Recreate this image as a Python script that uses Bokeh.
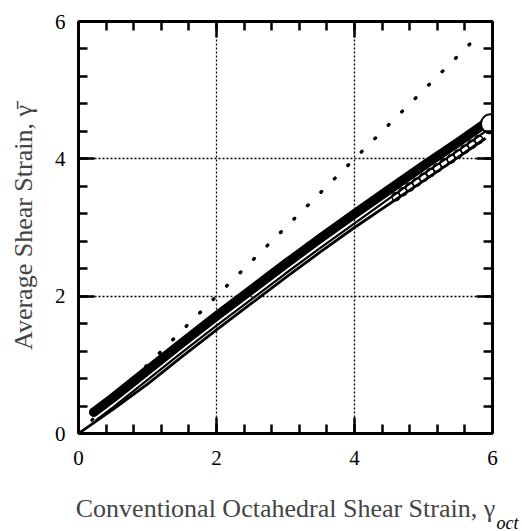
from bokeh.plotting import figure
from bokeh.models import LinearAxis, SingleIntervalTicker, Range1d, Title
from bokeh.embed import file_html
from bokeh.resources import INLINE

# ---- data ----
x_upper = [0.22, 0.5, 1.0, 1.5, 2.0, 2.5, 3.0, 3.5, 4.0, 4.5, 5.0, 5.5, 5.9]
y_upper = [0.31, 0.52, 0.92, 1.32, 1.71, 2.09, 2.47, 2.84, 3.20, 3.55, 3.90, 4.24, 4.52]

x_mid = [0.25, 0.5, 1.0, 1.5, 2.0, 2.5, 3.0, 3.5, 4.0, 4.5, 5.0, 5.5, 5.9]
y_mid = [0.19, 0.38, 0.78, 1.18, 1.57, 1.95, 2.33, 2.70, 3.06, 3.42, 3.78, 4.12, 4.40]

x_lower = [0.0, 0.5, 1.0, 1.5, 2.0, 2.5, 3.0, 3.5, 4.0, 4.5, 5.0, 5.5, 5.9]
y_lower = [0.0, 0.35, 0.72, 1.12, 1.51, 1.89, 2.27, 2.64, 3.00, 3.34, 3.68, 4.02, 4.30]

x_open = [4.6, 4.7, 4.8, 4.9, 5.0, 5.1, 5.2, 5.3, 5.4, 5.5, 5.6, 5.7, 5.8]
y_open = [3.45, 3.52, 3.59, 3.66, 3.73, 3.80, 3.87, 3.94, 4.00, 4.07, 4.14, 4.21, 4.28]

x_last = [5.97]
y_last = [4.51]

x_equal = [0.0, 5.85]
y_equal = [0.0, 5.85]

x_ticks = [0, 2, 4, 6]

FONT = "Liberation Serif"

p = figure(width=522, height=531, output_backend="svg", toolbar_location=None,
           x_range=Range1d(0, 6), y_range=Range1d(0, 6),
           min_border_left=78, min_border_right=30, min_border_top=21, min_border_bottom=98)
p.outline_line_color = None
p.background_fill_color = "white"
p.border_fill_color = "white"

# grid
for g in (p.xgrid, p.ygrid):
    g.ticker = SingleIntervalTicker(interval=2)
    g.grid_line_color = "black"
    g.grid_line_width = 1.3
    g.grid_line_dash = "2 2"

# 1:1 dotted line
p.line(x_equal, y_equal, line_color="black", line_width=3.4, line_dash="1 18", line_cap="round")

# data band
p.line(x_upper, y_upper, line_color="black", line_width=9.5, line_cap="round", line_join="round")
p.scatter(x_open, y_open, size=8, marker="circle", fill_color="white", line_color="black", line_width=1.6)
p.line(x_mid, y_mid, line_color="black", line_width=2.2)
p.line(x_lower, y_lower, line_color="black", line_width=2.8)
p.scatter(x_last, y_last, size=19, marker="circle", fill_color="white", line_color="black", line_width=2)

def style_axis(ax, labels=True):
    ax.ticker = SingleIntervalTicker(interval=2, num_minor_ticks=5)
    ax.axis_line_width = 3
    ax.axis_line_color = "black"
    ax.major_tick_in = 16
    ax.major_tick_out = 0
    ax.minor_tick_in = 9
    ax.minor_tick_out = 0
    ax.major_tick_line_width = 2.5
    ax.minor_tick_line_width = 2.5
    ax.major_tick_line_color = "black"
    ax.minor_tick_line_color = "black"
    ax.major_label_text_font = FONT
    ax.major_label_text_font_size = "21px"
    ax.major_label_text_color = "black"
    if not labels:
        ax.major_label_overrides = {t: "" for t in x_ticks}
        ax.major_label_standoff = 0

xa = p.xaxis[0]
ya = p.yaxis[0]
style_axis(xa)
style_axis(ya)
xa.major_label_standoff = 17
ya.major_label_standoff = 13

xa.axis_label = "Conventional Octahedral Shear Strain, \u03b3"
xa.axis_label_text_font = FONT
xa.axis_label_text_font_style = "normal"
xa.axis_label_text_font_size = "26px"
xa.axis_label_standoff = 26

ya.axis_label = "Average Shear Strain, \u03b3\u0304"
ya.axis_label_text_font = FONT
ya.axis_label_text_font_style = "normal"
ya.axis_label_text_font_size = "26px"
ya.axis_label_standoff = 14

top = LinearAxis()
style_axis(top, labels=False)
p.add_layout(top, "above")
right = LinearAxis()
style_axis(right, labels=False)
p.add_layout(right, "right")

sub = Title(text="oct", text_font=FONT, text_font_style="italic", text_font_size="18px",
            text_color="black", align="left", vertical_align="top", offset=418, standoff=-26)
p.add_layout(sub, "below")

open("out.html", "w").write(file_html(p, INLINE))
